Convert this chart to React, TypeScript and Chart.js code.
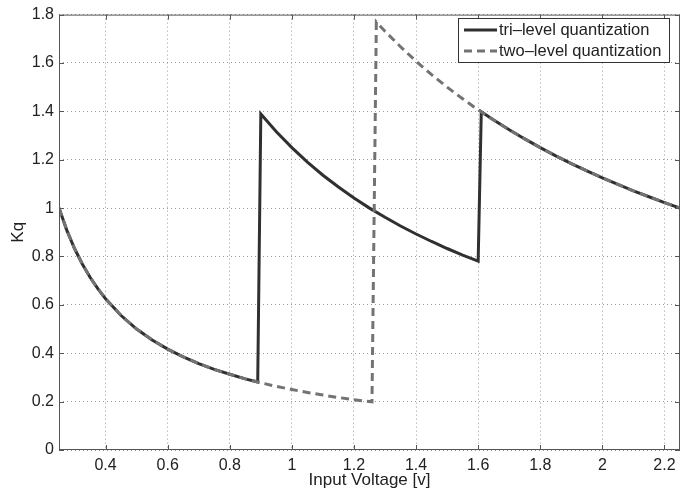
import React, { useEffect, useRef } from "react";
import { Chart, registerables } from "chart.js";

Chart.register(...registerables);

// Tri-level quantization curve
const triX = [
  0.25, 0.275, 0.3, 0.325, 0.35, 0.375, 0.4, 0.45, 0.5, 0.55, 0.6, 0.65, 0.7, 0.75, 0.8, 0.85, 0.89,
  0.9, 0.95, 1.0, 1.05, 1.1, 1.15, 1.2, 1.25, 1.3, 1.35, 1.4, 1.45, 1.5, 1.55, 1.6,
  1.61, 1.65, 1.7, 1.75, 1.8, 1.85, 1.9, 1.95, 2.0, 2.05, 2.1, 2.15, 2.2, 2.25,
];
const triY = [
  1.0, 0.909, 0.833, 0.769, 0.714, 0.667, 0.625, 0.556, 0.5, 0.455, 0.417, 0.385, 0.357, 0.333, 0.313, 0.294, 0.281,
  1.389, 1.316, 1.25, 1.19, 1.136, 1.087, 1.042, 1.0, 0.962, 0.926, 0.893, 0.862, 0.833, 0.806, 0.781,
  1.398, 1.364, 1.324, 1.286, 1.25, 1.216, 1.184, 1.154, 1.125, 1.098, 1.071, 1.047, 1.023, 1.0,
];

// Two-level quantization curve
const twoX = [
  0.25, 0.275, 0.3, 0.325, 0.35, 0.375, 0.4, 0.45, 0.5, 0.55, 0.6, 0.65, 0.7, 0.75, 0.8, 0.85, 0.9,
  0.95, 1.0, 1.05, 1.1, 1.15, 1.2, 1.258,
  1.272, 1.3, 1.35, 1.4, 1.45, 1.5, 1.55, 1.6, 1.65, 1.7, 1.75, 1.8, 1.85, 1.9, 1.95, 2.0, 2.05,
  2.1, 2.15, 2.2, 2.25,
];
const twoY = [
  1.0, 0.909, 0.833, 0.769, 0.714, 0.667, 0.625, 0.556, 0.5, 0.455, 0.417, 0.385, 0.357, 0.333, 0.313, 0.294, 0.278,
  0.263, 0.25, 0.238, 0.227, 0.217, 0.208, 0.199,
  1.769, 1.731, 1.667, 1.607, 1.552, 1.5, 1.452, 1.406, 1.364, 1.324, 1.286, 1.25, 1.216, 1.184, 1.154, 1.125, 1.098,
  1.071, 1.047, 1.023, 1.0,
];

const xTicks = [0.4, 0.6, 0.8, 1, 1.2, 1.4, 1.6, 1.8, 2, 2.2];
const yTicks = [0, 0.2, 0.4, 0.6, 0.8, 1, 1.2, 1.4, 1.6, 1.8];
const seriesLabels = ["tri\u2013level quantization", "two\u2013level quantization"];

const FONT = "'Liberation Sans', Arial, Helvetica, sans-serif";
const TRI_COLOR = "#303030";
const TWO_COLOR = "#737373";

const boxPlugin = {
  id: "matlabBox",
  afterDraw(chart: any) {
    const { ctx, chartArea: a, scales } = chart;
    ctx.save();
    ctx.strokeStyle = "#555";
    ctx.lineWidth = 1;
    ctx.setLineDash([]);
    ctx.strokeRect(a.left + 0.5, a.top + 0.5, a.right - a.left - 1, a.bottom - a.top - 1);
    const tl = 5;
    ctx.beginPath();
    for (const v of xTicks) {
      const px = Math.round(scales.x.getPixelForValue(v)) + 0.5;
      ctx.moveTo(px, a.bottom);
      ctx.lineTo(px, a.bottom - tl);
      ctx.moveTo(px, a.top);
      ctx.lineTo(px, a.top + tl);
    }
    for (const v of yTicks) {
      const py = Math.round(scales.y.getPixelForValue(v)) + 0.5;
      ctx.moveTo(a.left, py);
      ctx.lineTo(a.left + tl, py);
      ctx.moveTo(a.right, py);
      ctx.lineTo(a.right - tl, py);
    }
    ctx.stroke();

    // legend
    const lx = 458, ly = 18, lw = 211, lh = 44;
    ctx.fillStyle = "#fff";
    ctx.fillRect(lx, ly, lw, lh);
    ctx.strokeStyle = "#333";
    ctx.strokeRect(lx + 0.5, ly + 0.5, lw, lh);
    ctx.lineWidth = 3;
    ctx.strokeStyle = TRI_COLOR;
    ctx.beginPath();
    ctx.moveTo(464, 30);
    ctx.lineTo(497, 30);
    ctx.stroke();
    ctx.strokeStyle = TWO_COLOR;
    ctx.setLineDash([8, 5]);
    ctx.beginPath();
    ctx.moveTo(464, 51);
    ctx.lineTo(497, 51);
    ctx.stroke();
    ctx.setLineDash([]);
    ctx.fillStyle = "#222";
    ctx.font = `16.5px ${FONT}`;
    ctx.textBaseline = "middle";
    ctx.textAlign = "left";
    ctx.fillText(seriesLabels[0], 499, 30);
    ctx.fillText(seriesLabels[1], 499, 51);
    ctx.restore();
  },
};

export default function App() {
  const ref = useRef<HTMLCanvasElement | null>(null);
  useEffect(() => {
    if (!ref.current) return;
    const chart = new Chart(ref.current, {
      type: "line",
      data: {
        datasets: [
          {
            label: seriesLabels[1],
            data: twoX.map((x, i) => ({ x, y: twoY[i] })),
            borderColor: TWO_COLOR,
            borderWidth: 3,
            borderDash: [8, 5],
            pointRadius: 0,
            fill: false,
            tension: 0,
          },
          {
            label: seriesLabels[0],
            data: triX.map((x, i) => ({ x, y: triY[i] })),
            borderColor: TRI_COLOR,
            borderWidth: 3,
            pointRadius: 0,
            fill: false,
            tension: 0,
          },
        ],
      },
      options: {
        animation: false,
        responsive: false,
        layout: { padding: { top: 10, right: 12, left: 0, bottom: 0 } },
        plugins: { legend: { display: false }, tooltip: { enabled: false } },
        scales: {
          x: {
            type: "linear",
            min: 0.25,
            max: 2.25,
            afterBuildTicks: (s: any) => {
              s.ticks = xTicks.map((v) => ({ value: v }));
            },
            afterFit: (s: any) => {
              s.height = 45;
            },
            grid: { color: "#9a9a9a", lineWidth: 1, drawTicks: false },
            border: { display: false, dash: [1, 3] },
            ticks: {
              padding: 6,
              color: "#222",
              font: { family: FONT, size: 16 },
              maxRotation: 0,
              callback: (v: any) => String(Math.round(Number(v) * 10) / 10),
            },
            title: {
              display: true,
              text: "Input Voltage [v]",
              color: "#222",
              font: { family: FONT, size: 17 },
              padding: { top: 0, bottom: 4 },
            },
          },
          y: {
            type: "linear",
            min: 0,
            max: 1.8,
            afterBuildTicks: (s: any) => {
              s.ticks = yTicks.map((v) => ({ value: v }));
            },
            afterFit: (s: any) => {
              s.width = 59;
            },
            grid: { color: "#9a9a9a", lineWidth: 1, drawTicks: false },
            border: { display: false, dash: [1, 3] },
            ticks: {
              padding: 5,
              color: "#222",
              font: { family: FONT, size: 16 },
              callback: (v: any) => String(Math.round(Number(v) * 10) / 10),
            },
            title: {
              display: true,
              text: "Kq",
              color: "#222",
              font: { family: FONT, size: 17 },
              padding: { top: 8, bottom: 0 },
            },
          },
        },
      },
      plugins: [boxPlugin],
    });
    return () => chart.destroy();
  }, []);
  return (
    <div style={{ position: "fixed", left: 0, top: 0, width: 692, height: 495, background: "#fff" }}>
      <canvas ref={ref} width={692} height={495} style={{ display: "block" }} />
    </div>
  );
}
